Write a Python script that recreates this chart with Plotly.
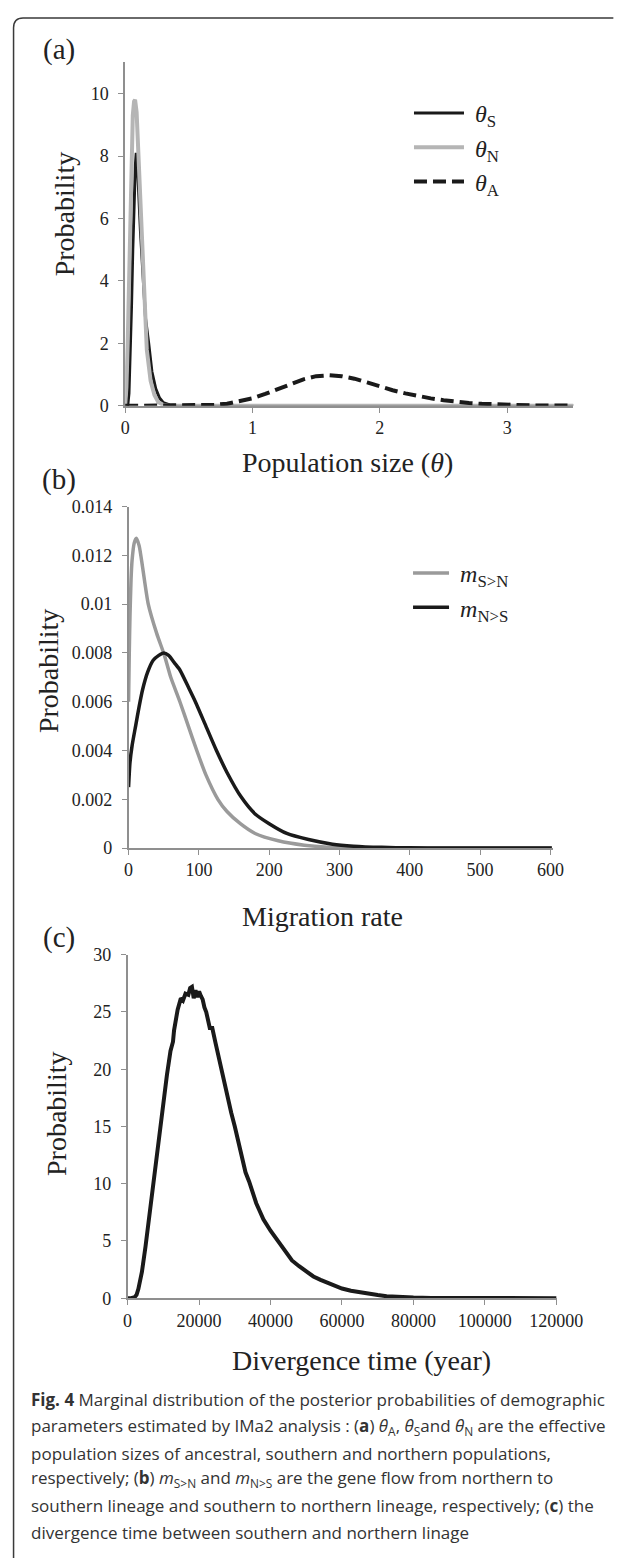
import plotly.graph_objects as go

W, H = 627, 1558

# ---------------- data (a) ----------------
theta_s_x = [0, 0.02, 0.03, 0.04, 0.05, 0.06, 0.07, 0.08, 0.087, 0.10, 0.12, 0.14, 0.16, 0.185, 0.21, 0.24, 0.27, 0.30, 0.35, 0.40, 0.5, 1.0, 2.0, 3.0, 3.52]
theta_s_y = [0, 0, 0.4, 1.5, 3.2, 5.0, 6.6, 7.7, 8.1, 7.4, 5.6, 4.0, 2.8, 2.0, 1.1, 0.55, 0.25, 0.1, 0.03, 0.01, 0, 0, 0, 0, 0]

theta_n_x = [0, 0.01, 0.02, 0.03, 0.04, 0.05, 0.06, 0.07, 0.078, 0.09, 0.11, 0.13, 0.15, 0.17, 0.20, 0.23, 0.26, 0.30, 0.35, 0.5, 1.0, 2.0, 3.0, 3.52]
theta_n_y = [0, 0.6, 2.0, 4.2, 6.5, 8.2, 9.3, 9.75, 9.8, 9.4, 7.5, 5.0, 3.0, 1.8, 0.8, 0.35, 0.12, 0.03, 0.005, 0, 0, 0, 0, 0]

theta_a_x = [0, 0.3, 0.5, 0.6, 0.7, 0.8, 0.9, 1.0, 1.1, 1.2, 1.3, 1.4, 1.5, 1.6, 1.7, 1.8, 1.9, 2.0, 2.1, 2.2, 2.3, 2.4, 2.5, 2.6, 2.7, 2.8, 2.9, 3.0, 3.2, 3.52]
theta_a_y = [0, 0, 0.005, 0.01, 0.03, 0.07, 0.14, 0.24, 0.38, 0.54, 0.70, 0.85, 0.95, 0.98, 0.95, 0.87, 0.75, 0.62, 0.50, 0.40, 0.31, 0.24, 0.18, 0.13, 0.09, 0.065, 0.045, 0.03, 0.015, 0.01]

a_xticks = [0, 1, 2, 3]
a_yticks = [0, 2, 4, 6, 8, 10]

# ---------------- data (b) ----------------
m_sn_x = [0, 1, 2, 3.5, 5, 8, 11, 15, 20, 28, 40, 51, 60, 73, 85, 97, 110, 127, 140, 159, 180, 213, 250, 284, 320, 400, 500, 602]
m_sn_y = [0.0060, 0.0080, 0.0095, 0.0110, 0.0118, 0.0125, 0.0127, 0.0124, 0.0115, 0.0100, 0.0088, 0.0079, 0.0070, 0.0060, 0.0050, 0.0040, 0.0030, 0.0020, 0.0015, 0.0010, 0.0006, 0.0003, 0.00012, 0.00004, 0.00001, 0, 0, 0]

m_ns_x = [0, 2, 5, 10, 15, 20, 27, 35, 43, 50, 57, 65, 73, 85, 95, 110, 125, 140, 160, 180, 200, 225, 256, 290, 320, 360, 400, 450, 500, 602]
m_ns_y = [0.0025, 0.0035, 0.0042, 0.0050, 0.0058, 0.0065, 0.0072, 0.0077, 0.0079, 0.0080, 0.0079, 0.0076, 0.0073, 0.0066, 0.0060, 0.0050, 0.0040, 0.0031, 0.0021, 0.0014, 0.0010, 0.0006, 0.00035, 0.00016, 0.00008, 0.00003, 0.00001, 0, 0, 0]

b_xticks = [0, 100, 200, 300, 400, 500, 600]
b_yticks = [0, 0.002, 0.004, 0.006, 0.008, 0.01, 0.012, 0.014]
b_yticktext = ["0", "0.002", "0.004", "0.006", "0.008", "0.01", "0.012", "0.014"]

# ---------------- data (c) ----------------
div_x = [0, 1000, 2000, 2500, 3000, 3500, 4000, 5000, 6000, 7000, 8000, 9000, 10000, 11000, 12000, 12700, 13000, 14000, 14900, 15500, 16200, 17000, 17500, 18000, 18500, 19000, 19500, 20000, 20500, 21000, 21500, 22000, 23000, 23700, 24600, 25500, 26300, 27200, 28000, 29000, 30000, 31000, 32000, 33000, 34000, 35000, 36000, 37000, 38000, 40000, 42000, 44000, 46000, 48000, 50000, 52000, 54000, 56000, 58000, 60000, 62500, 65000, 67500, 70000, 72500, 75000, 80000, 85000, 90000, 95000, 100000, 110000, 120000]
div_y = [0, 0, 0.1, 0.3, 0.8, 1.5, 2.3, 4.5, 7.0, 9.6, 12.5, 15.0, 17.3, 19.5, 21.6, 22.4, 23.4, 25.2, 26.2, 26.0, 26.6, 26.5, 27.1, 27.2, 26.2, 26.9, 26.3, 26.8, 26.4, 26.1, 25.4, 25.0, 23.6, 23.6, 22.3, 21.0, 20.1, 18.8, 17.6, 16.2, 15.0, 13.6, 12.0, 11.0, 10.2, 9.1, 8.3, 7.6, 6.9, 5.9, 5.0, 4.1, 3.3, 2.8, 2.3, 1.9, 1.6, 1.35, 1.05, 0.85, 0.65, 0.5, 0.38, 0.28, 0.18, 0.12, 0.06, 0.03, 0.02, 0.01, 0.01, 0, 0]

c_xticks = [0, 20000, 40000, 60000, 80000, 100000, 120000]
c_yticks = [0, 5, 10, 15, 20, 25, 30]

# ---------------- helpers ----------------
def px(x):
    return x / W

def py(y):
    return 1 - y / H

SERIF = "Liberation Serif"
AX_COL = "#8f8f8f"
TXT = "#222222"

fig = go.Figure()

# (a)
fig.add_trace(go.Scatter(x=theta_s_x, y=theta_s_y, mode="lines", name="&nbsp;<i>θ</i><sub>S</sub>",
                         line=dict(color="#1a1a1a", width=3), xaxis="x", yaxis="y", legend="legend",
                         legendgroup="s"))
fig.add_trace(go.Scatter(x=theta_n_x, y=theta_n_y, mode="lines", name="&nbsp;<i>θ</i><sub>N</sub>",
                         line=dict(color="#b5b5b5", width=4), xaxis="x", yaxis="y", legend="legend",
                         legendgroup="n"))
fig.add_trace(go.Scatter(x=theta_a_x, y=theta_a_y, mode="lines", name="&nbsp;<i>θ</i><sub>A</sub>",
                         line=dict(color="#1a1a1a", width=4, dash="13px,6px"), xaxis="x", yaxis="y",
                         legend="legend", legendgroup="a"))
# (b)
fig.add_trace(go.Scatter(x=m_sn_x, y=m_sn_y, mode="lines", name="&nbsp;<i>m</i><sub>S&gt;N</sub>",
                         line=dict(color="#9a9a9a", width=3.5, shape="spline", smoothing=0.6),
                         xaxis="x2", yaxis="y2", legend="legend2", legendgroup="sn"))
fig.add_trace(go.Scatter(x=m_ns_x, y=m_ns_y, mode="lines", name="&nbsp;<i>m</i><sub>N&gt;S</sub>",
                         line=dict(color="#1a1a1a", width=3.5, shape="spline", smoothing=0.6),
                         xaxis="x2", yaxis="y2", legend="legend2", legendgroup="ns"))
# (c)
fig.add_trace(go.Scatter(x=div_x, y=div_y, mode="lines", showlegend=False,
                         line=dict(color="#1a1a1a", width=4), xaxis="x3", yaxis="y3"))

base_ax = dict(showline=True, linecolor=AX_COL, linewidth=1.5, ticks="outside", tickcolor=AX_COL,
               ticklen=5, tickwidth=1.2, showgrid=False, zeroline=False, fixedrange=True,
               tickfont=dict(family=SERIF, size=18, color=TXT))

fig.update_layout(
    width=W, height=H, autosize=False,
    margin=dict(l=0, r=0, t=0, b=0),
    paper_bgcolor="white", plot_bgcolor="white",
    xaxis=dict(base_ax, domain=[px(126.4), px(598)], range=[0, 3.52], anchor="y",
               tickvals=a_xticks, ticktext=[str(v) for v in a_xticks], ticklabelstandoff=0),
    yaxis=dict(base_ax, domain=[py(401), py(53)], range=[0, 11], anchor="x",
               tickvals=a_yticks, ticktext=[str(v) for v in a_yticks], ticklabelstandoff=6),
    xaxis2=dict(base_ax, domain=[px(130), px(576)], range=[0, 603], anchor="y2",
                tickvals=b_xticks, ticktext=[str(v) for v in b_xticks], ticklabelstandoff=0),
    yaxis2=dict(base_ax, domain=[py(849), py(503)], range=[0, 0.014], anchor="x2",
                tickvals=b_yticks, ticktext=b_yticktext, ticklabelstandoff=6),
    xaxis3=dict(base_ax, domain=[px(129), px(581)], range=[0, 120266], anchor="y3",
                tickvals=c_xticks, ticktext=[str(v) for v in c_xticks], ticklabelstandoff=0),
    yaxis3=dict(base_ax, domain=[py(1305), py(957)], range=[0, 30], anchor="x3",
                tickvals=c_yticks, ticktext=[str(v) for v in c_yticks], ticklabelstandoff=6),
    legend=dict(x=px(425), y=py(82), xanchor="left", yanchor="top", bgcolor="rgba(0,0,0,0)",
                font=dict(family=SERIF, size=24, color=TXT), itemwidth=50, tracegroupgap=0),
    legend2=dict(x=px(424), y=py(548), xanchor="left", yanchor="top", bgcolor="rgba(0,0,0,0)",
                 font=dict(family=SERIF, size=24, color=TXT), itemwidth=36, tracegroupgap=0),
    showlegend=True,
)

ann = []
def text(x, y, s, size, angle=0, family=SERIF, color=TXT, xanchor="center"):
    ann.append(dict(x=px(x), y=py(y), xref="paper", yref="paper", text=s, showarrow=False,
                    textangle=angle, xanchor=xanchor, yanchor="middle",
                    font=dict(family=family, size=size, color=color)))

# panel letters
text(57, 40, "(a)", 29)
text(57, 476, "(b)", 29)
text(57, 940, "(c)", 29)
# axis titles
text(62, 207, "Probability", 28, angle=-90)
text(360, 458, "Population size (<i>θ</i>)", 28)
text(46, 670, "Probability", 28, angle=-90)
text(334, 918, "Migration rate", 28)
text(54, 1118, "Probability", 28, angle=-90)
text(375, 1368, "Divergence time (year)", 28)

# caption
SANS = "Open Sans"
CAP = "#333333"
caption_lines = [
    "<b>Fig. 4</b> Marginal distribution of the posterior probabilities of demographic",
    "parameters estimated by IMa2 analysis : (<b>a</b>) <i>θ</i><sub>A</sub>, <i>θ</i><sub>S</sub>and <i>θ</i><sub>N</sub> are the effective",
    "population sizes of ancestral, southern and northern populations,",
    "respectively; (<b>b</b>) <i>m</i><sub>S&gt;N</sub> and <i>m</i><sub>N&gt;S</sub> are the gene flow from northern to",
    "southern lineage and southern to northern lineage, respectively; (<b>c</b>) the",
    "divergence time between southern and northern linage",
]
caption_y = [1408, 1435, 1462, 1488, 1515, 1542]
for s, yy in zip(caption_lines, caption_y):
    text(25, yy, s, 17, family=SANS, color=CAP, xanchor="left")

fig.update_layout(annotations=ann)

# frame
r = 10
path = (f"M {px(9)},{py(1575)} L {px(9)},{py(8 + r)} Q {px(9)},{py(8)} {px(9 + r)},{py(8)} "
        f"L {px(640)},{py(8)}")
fig.add_shape(type="path", path=path, xref="paper", yref="paper",
              line=dict(color="#3a3a3a", width=1.5))

fig.write_html("out.html", config={"displayModeBar": False, "staticPlot": False},
               post_script="document.body.style.margin='0';document.body.style.overflow='hidden';")
